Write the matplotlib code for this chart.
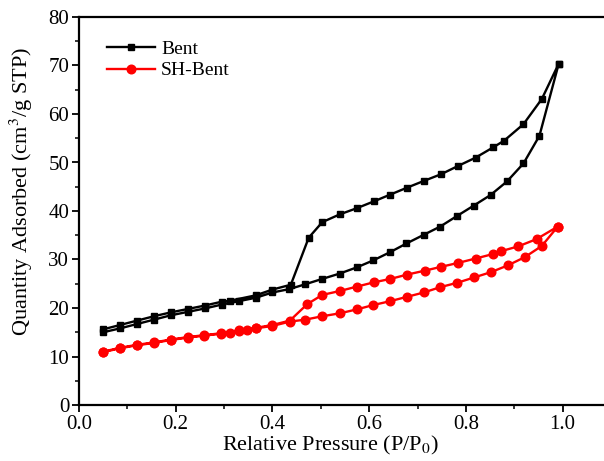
import numpy as np
import matplotlib
matplotlib.use("Agg")
import matplotlib.pyplot as plt
from matplotlib.ticker import MultipleLocator

# ---------- data ----------
# Bent: adsorption branch
bent_ads_p = [0.05, 0.085, 0.12, 0.155, 0.19, 0.225, 0.26, 0.295, 0.33, 0.365,
              0.40, 0.435, 0.468, 0.503, 0.539, 0.575, 0.608, 0.643, 0.677,
              0.713, 0.747, 0.782, 0.816, 0.851, 0.885, 0.919, 0.952, 0.992]
bent_ads_v = [15.0, 15.8, 16.7, 17.6, 18.5, 19.2, 19.9, 20.7, 21.4, 22.1,
              23.2, 23.9, 24.9, 26.0, 27.1, 28.4, 29.8, 31.5, 33.3,
              35.1, 36.8, 39.0, 41.1, 43.3, 46.1, 49.8, 55.5, 70.4]
# Bent: desorption branch
bent_des_p = [0.992, 0.957, 0.919, 0.879, 0.856, 0.820, 0.784, 0.749, 0.713,
              0.678, 0.644, 0.610, 0.575, 0.539, 0.503, 0.475, 0.438, 0.40,
              0.365, 0.312, 0.295, 0.26, 0.225, 0.19, 0.155, 0.12, 0.085, 0.05]
bent_des_v = [70.4, 63.1, 57.9, 54.5, 53.1, 51.0, 49.3, 47.6, 46.2,
              44.8, 43.4, 42.0, 40.6, 39.3, 37.7, 34.5, 24.8, 23.8,
              22.6, 21.5, 21.3, 20.5, 19.8, 19.1, 18.3, 17.4, 16.5, 15.6]

# SH-Bent: adsorption branch
sh_ads_p = [0.05, 0.085, 0.119, 0.155, 0.19, 0.225, 0.259, 0.294, 0.312, 0.33,
            0.348, 0.365, 0.40, 0.436, 0.468, 0.503, 0.539, 0.574, 0.608,
            0.643, 0.678, 0.713, 0.747, 0.782, 0.817, 0.852, 0.887, 0.922,
            0.957, 0.990]
sh_ads_v = [10.9, 11.7, 12.3, 12.8, 13.4, 13.9, 14.3, 14.7, 14.9, 15.3,
            15.5, 15.8, 16.3, 17.2, 17.6, 18.3, 18.9, 19.7, 20.6,
            21.4, 22.3, 23.2, 24.3, 25.2, 26.3, 27.4, 28.8, 30.5,
            32.8, 36.8]
# SH-Bent: desorption branch
sh_des_p = [0.990, 0.946, 0.908, 0.872, 0.855, 0.820, 0.784, 0.749, 0.715,
            0.679, 0.644, 0.610, 0.574, 0.539, 0.503, 0.472, 0.436, 0.40,
            0.365, 0.33, 0.294, 0.259, 0.225, 0.19, 0.155, 0.119, 0.085, 0.05]
sh_des_v = [36.8, 34.2, 32.7, 31.7, 31.1, 30.2, 29.3, 28.5, 27.7,
            26.9, 26.0, 25.3, 24.4, 23.5, 22.7, 20.8, 17.4, 16.5,
            15.9, 15.4, 14.8, 14.4, 14.0, 13.5, 12.9, 12.4, 11.8, 11.0]

x_ticks = [0.0, 0.2, 0.4, 0.6, 0.8, 1.0]
y_ticks = [0, 10, 20, 30, 40, 50, 60, 70, 80]

# ---------- style ----------
plt.rcParams["font.family"] = ["Liberation Serif", "DejaVu Serif"]
plt.rcParams["mathtext.fontset"] = "stix"
plt.rcParams["font.size"] = 12

W, H = 604, 461
fig = plt.figure(figsize=(W / 100, H / 100), dpi=100)
# plot area: x=0 at px 79, y=0 at px 405, y=80 at px 17; axes runs off the right edge
ax = fig.add_axes([79 / W, (H - 405) / H, 532 / W, 388 / H])

bent_p = bent_ads_p + bent_des_p
bent_v = bent_ads_v + bent_des_v
sh_p = sh_ads_p + sh_des_p
sh_v = sh_ads_v + sh_des_v

ax.plot(bent_p, bent_v, color="black", lw=1.7, marker="s", ms=5,
        label="Bent", zorder=3)
ax.plot(sh_p, sh_v, color="#ff0000", lw=1.7, marker="o", ms=6.2,
        label="SH-Bent", zorder=3)

ax.set_xlim(0, 1.1)
ax.set_ylim(0, 80)
ax.set_xticks(x_ticks)
ax.set_xticklabels([f"{t:.1f}" for t in x_ticks])
ax.set_yticks(y_ticks)
ax.xaxis.set_minor_locator(MultipleLocator(0.1))
ax.yaxis.set_minor_locator(MultipleLocator(5))
ax.tick_params(which="major", direction="out", length=5, width=1.3,
               labelsize=15, pad=2)
ax.tick_params(which="minor", direction="out", length=3, width=1.1)
for side in ("left", "bottom", "top"):
    ax.spines[side].set_linewidth(1.6)
ax.spines["right"].set_visible(False)

ax.set_xlabel("Relative Pressure (P/P$_0$)", fontsize=16)
ax.set_ylabel("Quantity Adsorbed (cm$^3$/g STP)", fontsize=16)
ax.xaxis.set_label_coords(0.472, -0.075)
ax.yaxis.set_label_coords(-0.083, 0.55)

ax.legend(loc="upper left", bbox_to_anchor=(0.03, 0.97), frameon=False,
          fontsize=14, handlelength=2.5, handletextpad=0.3,
          labelspacing=0.2, borderaxespad=0.2)

fig.savefig("out.png", dpi=100)
